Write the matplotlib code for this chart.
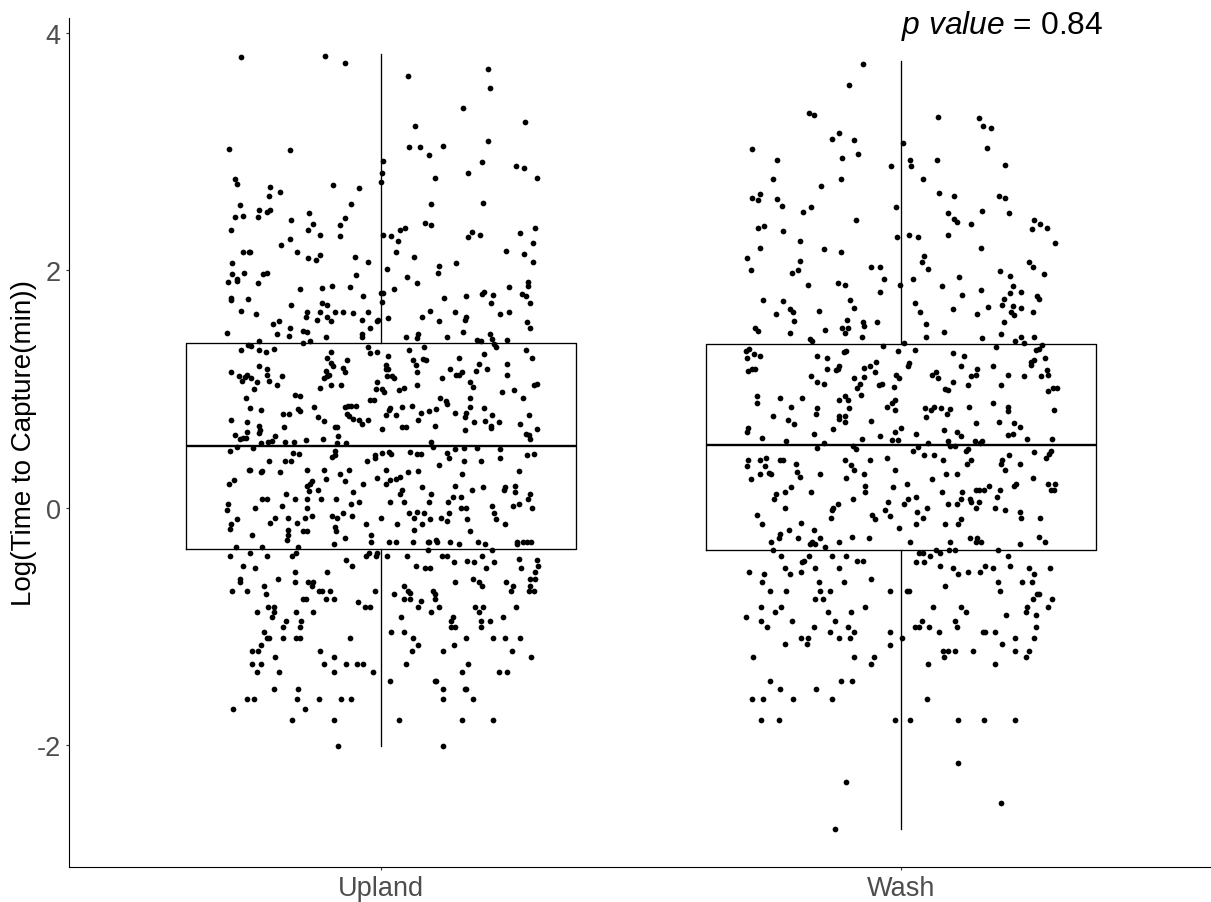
#Jittered time to capture by habitat with boxplots
import matplotlib
matplotlib.use("Agg")
import matplotlib.pyplot as plt

plt.rcParams['font.family'] = ['Liberation Sans', 'DejaVu Sans']
plt.rcParams['mathtext.fontset'] = 'custom'
plt.rcParams['mathtext.it'] = 'Liberation Sans:italic'
plt.rcParams['mathtext.rm'] = 'Liberation Sans'

categories = ["Upland", "Wash"]
y_ticks = [-2, 0, 2, 4]
y_tick_labels = ["-2", "0", "2", "4"]
p_label = r"$\mathit{p\ value}$ = 0.84"

# box summaries: whislo, q1, med, q3, whishi
upland_box = [-2.01, -0.35, 0.515, 1.385, 3.82]
wash_box = [-2.71, -0.36, 0.525, 1.38, 3.76]

# (horizontal jitter from the category centre, log time)
upland_top = [(-0.270,3.80),(-0.108,3.81),(-0.070,3.75),(0.052,3.64),(0.206,3.70),(0.210,3.54),(0.158,3.37),(0.277,3.25),
(0.066,3.22),(0.206,3.09),(-0.292,3.02),(-0.175,3.01),(0.054,3.04),(0.074,3.04),(0.119,3.05),(0.093,2.97),(0.004,2.92),
(0.002,2.82),(0.000,2.74),(0.194,2.91),(0.167,2.82),(0.260,2.88),(0.275,2.86),(0.299,2.78),(0.103,2.78),(-0.280,2.77),
(-0.276,2.73),(-0.213,2.70),(-0.215,2.63),(-0.195,2.66),(-0.092,2.72),(-0.043,2.69),(-0.272,2.55),(-0.235,2.51),(-0.213,2.51),
(-0.219,2.49),(-0.280,2.45),(-0.266,2.46),(-0.237,2.45),(-0.057,2.56),(-0.138,2.48),(0.097,2.56),(0.196,2.57),(-0.174,2.42),
(-0.070,2.44),(-0.130,2.39),(-0.078,2.38),(0.085,2.40),(0.097,2.38),(0.046,2.36),(0.036,2.34),(-0.288,2.34),(-0.140,2.34),
(-0.118,2.30),(-0.078,2.29),(0.004,2.30),(0.020,2.29),(0.032,2.25),(0.174,2.32),(0.167,2.28),(0.190,2.30),(0.267,2.31),
(0.297,2.36),(0.293,2.23),(-0.175,2.26),(-0.193,2.21),(-0.266,2.15),(-0.254,2.15),(-0.251,2.15),(-0.161,2.15),(-0.118,2.13),
(-0.140,2.10),(-0.126,2.09),(-0.051,2.11),(-0.025,2.07),(0.028,2.15),(0.064,2.11),(0.240,2.16),(0.275,2.14),(0.293,2.07),
(0.145,2.06),(0.111,2.04),(0.109,1.98),(0.011,2.01),(-0.286,2.06),(-0.286,1.97),(-0.264,1.98),(-0.276,1.93),(-0.227,1.97),
(-0.219,1.98),(-0.049,1.96),(0.050,1.94)]

upland_mid = [(-0.294,1.90),(-0.276,1.91),(-0.237,1.89),(-0.156,1.84),(-0.114,1.85),(-0.094,1.87),(-0.059,1.86),(0.024,1.84),
(0.070,1.89),(0.282,1.90),(0.282,1.87),(0.247,1.86),(-0.001,1.81),(0.004,1.81),(0.002,1.73),(-0.035,1.78),(-0.288,1.77),
(-0.288,1.75),(-0.256,1.76),(-0.173,1.71),(-0.114,1.72),(-0.103,1.71),(0.121,1.77),(0.164,1.78),(0.194,1.80),(0.198,1.82),
(0.216,1.79),(0.271,1.80),(0.279,1.78),(0.212,1.72),(0.287,1.72),(-0.270,1.66),(-0.240,1.63),(-0.142,1.65),(-0.144,1.61),
(-0.118,1.65),(-0.088,1.65),(-0.074,1.65),(-0.053,1.64),(-0.025,1.65),(-0.104,1.61),(-0.124,1.58),(-0.096,1.57),(-0.037,1.58),
(0.014,1.60),(-0.005,1.58),(-0.007,1.57),(0.079,1.61),(0.095,1.66),(0.111,1.57),(0.143,1.65),(0.163,1.61),(0.161,1.58),
(0.229,1.63),(0.247,1.65),(0.281,1.56),(0.287,1.51),(-0.207,1.55),(-0.197,1.57),(-0.175,1.51),(-0.151,1.49),(-0.142,1.48),
(-0.296,1.47),(-0.201,1.46),(-0.177,1.45),(-0.106,1.44),(-0.037,1.46),(-0.037,1.44),(-0.021,1.51),(0.048,1.44),(0.072,1.46),
(0.070,1.43),(0.127,1.44),(0.157,1.48),(0.210,1.46),(0.214,1.42),(0.218,1.38),(0.222,1.35),(-0.234,1.40),(-0.151,1.39),
(-0.136,1.40),(0.184,1.41),(0.192,1.40),(0.243,1.41),(-0.256,1.37),(-0.250,1.36),(-0.270,1.33),(-0.234,1.33),(-0.222,1.31),
(-0.206,1.34),(-0.025,1.35),(-0.021,1.30),(-0.007,1.31),(0.054,1.33),(0.083,1.35),(-0.096,1.31),(0.014,1.28),(0.198,1.29),
(0.279,1.33),(0.291,1.26),(0.149,1.26),(-0.104,1.26),(-0.096,1.22),(-0.092,1.19),(-0.065,1.24),(0.062,1.24),(0.068,1.20),
(0.081,1.25),(0.086,1.24),(0.188,1.21),(0.243,1.21),(-0.234,1.19),(-0.220,1.17),(-0.220,1.12),(-0.074,1.18),(-0.069,1.14),
(0.009,1.20),(0.009,1.17),(0.014,1.17),(-0.288,1.14),(-0.106,1.15),(-0.101,1.12),(-0.104,1.11),(-0.109,1.09),(0.070,1.14),
(0.132,1.17),(0.182,1.15),(0.204,1.17),(0.156,1.14),(0.150,1.12),(0.144,1.12),(0.242,1.12),(-0.274,1.11),(-0.258,1.12),
(-0.262,1.10),(-0.268,1.07),(-0.250,1.09),(-0.239,1.06),(-0.215,1.07),(-0.191,1.11),(0.011,1.11),(0.022,1.11),(0.024,1.09),
(0.117,1.09),(0.172,1.06),(0.176,1.02),(-0.007,1.06),(-0.201,1.03),(-0.244,1.00),(-0.118,1.01),(-0.096,1.03),(-0.077,1.03),
(0.070,1.03),(-0.009,1.00),(0.002,1.00),(0.006,0.97),(0.034,0.99),(0.044,1.01),(0.232,0.97),(0.255,0.99),(0.295,1.03),
(0.300,1.04),(-0.165,0.95),(-0.156,0.94),(-0.260,0.92),(-0.021,0.91),(-0.013,0.91),(0.113,0.92),(0.125,0.90),(0.127,0.87),
(0.172,0.92),(0.273,0.92),(-0.252,0.84),(-0.231,0.82),(-0.160,0.83),(-0.156,0.81),(-0.128,0.85),(-0.070,0.85),(-0.063,0.86),
(-0.057,0.86),(-0.049,0.86),(0.018,0.84),(0.016,0.82),(0.040,0.85),(0.060,0.86),(0.076,0.80),(0.093,0.81),(0.105,0.83),
(0.143,0.80),(0.163,0.80),(0.161,0.76),(0.172,0.85),(0.198,0.84),(-0.189,0.79),(-0.177,0.79),(-0.065,0.79),(-0.061,0.77),
(-0.053,0.75),(0.009,0.78),(0.028,0.78),(0.214,0.78),(0.285,0.78),(-0.288,0.74),(-0.122,0.76),(-0.110,0.73),(-0.043,0.74),
(-0.025,0.74),(0.072,0.74),(0.178,0.72),(0.200,0.73),(0.226,0.72),(-0.258,0.72),(-0.234,0.69),(-0.232,0.65),(-0.234,0.63),
(-0.186,0.68),(-0.088,0.68),(-0.085,0.68),(-0.037,0.70),(0.040,0.68),(0.048,0.68),(0.103,0.69),(0.211,0.69),(0.211,0.67),
(0.267,0.70),(0.002,0.66),(0.299,0.66),(-0.258,0.64),(0.161,0.65),(-0.280,0.61),(-0.272,0.58),(-0.266,0.59),(-0.260,0.59),
(-0.203,0.60),(-0.209,0.56),(-0.217,0.55),(-0.112,0.58),(-0.083,0.60),(0.279,0.62),(0.285,0.61),(0.287,0.58),(-0.144,0.57),
(-0.231,0.54),(-0.185,0.55),(-0.167,0.55),(-0.084,0.54),(-0.067,0.54),(0.097,0.55),(0.099,0.51),(-0.276,0.51),(-0.246,0.50),
(-0.290,0.48),(-0.088,0.48),(0.143,0.49),(0.159,0.50),(0.184,0.50),(0.229,0.49),(0.056,0.47),(0.016,0.47),(0.020,0.45),
(0.002,0.46),(-0.011,0.44),(-0.011,0.42),(0.070,0.45),(0.076,0.45),(0.126,0.46),(0.130,0.42),(-0.169,0.46),(-0.158,0.45),
(-0.088,0.44),(-0.094,0.43),(0.281,0.44),(0.295,0.45),(0.229,0.42),(-0.215,0.39),(-0.185,0.39),(-0.173,0.39),(-0.027,0.39),
(0.159,0.39),(0.192,0.39),(0.111,0.36),(-0.254,0.32),(-0.251,0.32),(-0.228,0.31),(-0.230,0.30),(-0.195,0.30),(-0.142,0.32),
(-0.110,0.32),(-0.061,0.32),(0.009,0.32),(0.072,0.31),(0.265,0.31),(-0.078,0.28),(0.052,0.30),(0.156,0.28),(-0.106,0.24),
(-0.069,0.22),(-0.007,0.25),(0.037,0.26),(0.028,0.24),(0.018,0.23),(-0.282,0.23),(-0.292,0.20),(-0.035,0.20),(0.009,0.20),
(-0.132,0.22),(-0.136,0.20),(-0.142,0.18),(-0.138,0.14),(-0.122,0.15),(0.079,0.17),(0.143,0.18),(0.174,0.15),(0.196,0.17),
(0.238,0.17),(0.236,0.15),(0.257,0.18),(0.257,0.13),(0.040,0.15),(0.037,0.11),(-0.053,0.13),(-0.183,0.11),(0.097,0.11),
(0.287,0.11),(0.283,0.07),(0.139,0.09),(0.153,0.09),(-0.228,0.07),(-0.219,0.07),(-0.165,0.07),(-0.142,0.07),(-0.116,0.07),
(-0.087,0.07),(-0.043,0.05),(-0.057,0.03),(0.018,0.05),(0.044,0.05),(0.092,0.05),(0.129,0.05),(-0.294,0.03),(-0.297,-0.02),
(-0.191,0.01),(-0.242,0.00),(-0.142,0.00),(0.253,0.01),(0.265,0.03),(0.214,0.01),(0.153,0.00),(0.163,0.00),(0.291,0.00),
(0.070,-0.04),(0.082,-0.05),(0.054,-0.05),(0.218,-0.05),(0.131,-0.05),(-0.074,-0.05),(-0.055,-0.07),(-0.094,-0.07),(-0.084,-0.09),
(-0.132,-0.07),(-0.147,-0.09),(-0.179,-0.09),(-0.204,-0.09),(-0.276,-0.10),(0.000,-0.09),(0.064,-0.09),(0.095,-0.10),(0.115,-0.09),
(0.165,-0.10),(0.222,-0.10)]

upland_low = [(-0.213,-0.13),(-0.161,-0.13),(-0.029,-0.14),(0.030,-0.14),(0.079,-0.14),(0.127,-0.11),(0.238,-0.14),(-0.288,-0.14),
(-0.290,-0.18),(-0.248,-0.23),(-0.179,-0.19),(-0.179,-0.23),(-0.181,-0.27),(-0.151,-0.20),(-0.142,-0.20),(-0.088,-0.16),(-0.086,-0.20),
(-0.070,-0.26),(-0.019,-0.23),(0.064,-0.19),(0.172,-0.20),(-0.090,-0.31),(-0.019,-0.29),(0.016,-0.29),(0.028,-0.29),(0.062,-0.29),
(0.090,-0.29),(0.092,-0.29),(0.105,-0.27),(0.107,-0.29),(0.133,-0.29),(0.149,-0.31),(0.186,-0.29),(0.200,-0.31),(0.261,-0.29),
(0.261,-0.31),(0.273,-0.29),(0.281,-0.29),(0.289,-0.29),(-0.278,-0.33),(-0.228,-0.33),(-0.160,-0.33),(0.090,-0.36),(0.214,-0.36),
(-0.290,-0.41),(-0.252,-0.38),(-0.219,-0.41),(-0.171,-0.41),(-0.163,-0.38),(-0.024,-0.38),(-0.028,-0.41),(-0.007,-0.38),(-0.010,-0.41),
(0.011,-0.41),(0.050,-0.41),(0.117,-0.41),(0.127,-0.41),(0.194,-0.41),(-0.067,-0.44),(0.141,-0.46),(0.165,-0.45),(0.178,-0.46),
(0.218,-0.46),(0.265,-0.43),(0.299,-0.44),(0.301,-0.49),(-0.266,-0.49),(-0.055,-0.49),(0.068,-0.49),(-0.242,-0.51),(0.085,-0.51),
(0.095,-0.51),(0.202,-0.51),(0.269,-0.51),(0.297,-0.54),(-0.165,-0.54),(-0.103,-0.54),(0.287,-0.60),(0.297,-0.60),(-0.272,-0.60),
(-0.272,-0.63),(-0.199,-0.60),(-0.165,-0.63),(-0.140,-0.63),(-0.130,-0.63),(-0.132,-0.66),(0.143,-0.63),(0.176,-0.60),(0.188,-0.63),
(0.194,-0.66),(0.240,-0.63),(0.253,-0.66),(0.249,-0.70),(-0.226,-0.66),(0.044,-0.66),(0.287,-0.66),(0.285,-0.70),(0.295,-0.70),
(-0.286,-0.70),(-0.258,-0.70),(-0.120,-0.70),(-0.114,-0.70),(-0.098,-0.70),(-0.011,-0.70),(0.052,-0.70),(0.056,-0.72),(0.056,-0.77),
(0.099,-0.70),(0.103,-0.73),(0.103,-0.77),(-0.222,-0.73),(0.024,-0.73),(0.044,-0.77),(-0.151,-0.77),(-0.145,-0.77),(-0.106,-0.77),
(-0.090,-0.77),(0.076,-0.79),(0.072,-0.84),(-0.045,-0.80),(-0.031,-0.84),(-0.021,-0.84),(-0.217,-0.84),(-0.205,-0.84),(-0.205,-0.88),
(0.111,-0.84),(0.180,-0.84),(0.196,-0.84),(0.259,-0.84),(-0.238,-0.88),(-0.163,-0.88),(-0.130,-0.88),(0.097,-0.88),(0.188,-0.88),
(-0.209,-0.92),(0.038,-0.92),(0.139,-0.92),(0.135,-0.96),(0.234,-0.92),(-0.183,-0.96),(-0.154,-0.96),(0.192,-0.96),(0.210,-0.96),
(-0.189,-1.01),(-0.156,-1.01),(0.135,-1.01),(0.143,-1.01),(0.192,-1.01),(-0.226,-1.05),(0.020,-1.05),(0.044,-1.05),(-0.219,-1.10),
(-0.215,-1.10),(-0.189,-1.10),(-0.163,-1.10),(-0.156,-1.10),(-0.059,-1.10),(0.062,-1.10),(0.163,-1.10),(0.216,-1.10),(0.238,-1.10),
(0.267,-1.10),(-0.231,-1.16),(0.072,-1.16),(0.141,-1.16),(-0.248,-1.21),(-0.237,-1.21),(-0.118,-1.21),(0.060,-1.21),(0.119,-1.21),
(0.251,-1.21),(-0.203,-1.26),(-0.090,-1.26),(0.289,-1.26),(-0.248,-1.32),(-0.231,-1.32),(-0.110,-1.32),(-0.067,-1.32),(-0.047,-1.32),
(-0.035,-1.32),(0.048,-1.32),(0.167,-1.32),(-0.238,-1.39),(-0.197,-1.39),(-0.090,-1.39),(-0.015,-1.39),(0.156,-1.39),(0.226,-1.39),
(0.243,-1.39),(0.018,-1.46),(0.103,-1.46),(0.106,-1.46),(-0.205,-1.53),(-0.160,-1.53),(0.119,-1.53),(0.161,-1.53),(0.163,-1.53),
(-0.258,-1.61),(-0.244,-1.61),(-0.161,-1.61),(-0.120,-1.61),(-0.077,-1.61),(-0.057,-1.61),(0.119,-1.61),(0.176,-1.61),(-0.284,-1.70),
(-0.146,-1.70),(-0.171,-1.79),(-0.090,-1.79),(0.034,-1.79),(0.156,-1.79),(0.216,-1.79),(-0.083,-2.01),(0.119,-2.01)]

wash_top = [(-0.073,3.74),(-0.100,3.56),(-0.178,3.33),(-0.167,3.31),(0.071,3.29),(0.150,3.28),(0.158,3.22),(0.172,3.20),(-0.119,3.16),
(-0.132,3.11),(-0.091,3.10),(0.004,3.07),(-0.287,3.02),(0.166,3.03),(-0.239,2.93),(-0.114,2.95),(-0.083,2.98),(0.018,2.93),(0.020,2.88),
(0.069,2.93),(-0.020,2.88),(0.199,2.89),(-0.247,2.77),(-0.116,2.77),(-0.154,2.71),(0.042,2.77),(0.073,2.65),(0.101,2.63),(0.188,2.63),
(0.199,2.61),(-0.287,2.61),(-0.276,2.59),(-0.271,2.64),(-0.239,2.60),(-0.229,2.54),(-0.174,2.53),(-0.189,2.49),(-0.010,2.53),(0.091,2.48),
(0.101,2.43),(0.108,2.41),(0.156,2.50),(0.207,2.48),(-0.087,2.42),(0.256,2.42),(0.268,2.39),(0.281,2.36),(0.251,2.35),(0.134,2.39),
(-0.276,2.36),(-0.263,2.37),(-0.227,2.33),(-0.195,2.25),(-0.008,2.28),(0.016,2.30),(0.032,2.28),(0.091,2.30),(0.296,2.23),(-0.272,2.19),
(-0.148,2.18),(-0.116,2.15),(0.154,2.19),(0.045,2.12),(0.040,2.07),(-0.296,2.10),(-0.288,2.00),(-0.195,2.08),(-0.210,1.98),(-0.199,2.00),
(-0.057,2.03),(-0.041,2.03),(0.051,2.01),(0.245,2.07),(0.254,2.03),(0.190,1.99),(0.210,1.95),(0.274,1.97),(-0.033,1.93),(0.022,1.93),
(0.111,1.94)]

wash_mid = [(-0.179,1.88),(-0.122,1.89),(-0.108,1.88),(-0.040,1.82),(-0.002,1.88),(0.079,1.87),(0.154,1.83),(0.215,1.87),(0.210,1.81),
(0.231,1.82),(0.117,1.79),(0.262,1.78),(0.265,1.76),(0.197,1.76),(0.195,1.71),(0.215,1.70),(0.231,1.68),(0.211,1.65),(0.217,1.62),
(0.168,1.69),(0.146,1.63),(0.253,1.65),(-0.265,1.75),(-0.227,1.74),(-0.099,1.75),(0.026,1.72),(0.100,1.67),(-0.241,1.63),(-0.213,1.67),
(-0.207,1.65),(-0.158,1.66),(-0.091,1.68),(0.036,1.65),(-0.205,1.57),(-0.104,1.58),(-0.046,1.56),(-0.073,1.56),(-0.071,1.53),(0.047,1.55),
(0.197,1.56),(-0.280,1.51),(-0.275,1.49),(-0.213,1.47),(-0.146,1.50),(-0.114,1.51),(-0.103,1.51),(-0.108,1.47),(-0.075,1.44),(0.082,1.48),
(0.047,1.44),(0.193,1.46),(0.156,1.43),(0.231,1.44),(0.219,1.40),(0.237,1.39),(0.256,1.44),(-0.175,1.42),(-0.172,1.40),(0.005,1.39),
(-0.035,1.36),(0.182,1.35),(0.270,1.37),(0.265,1.34),(0.259,1.33),(-0.292,1.34),(-0.299,1.32),(-0.282,1.29),(-0.271,1.28),(-0.296,1.26),
(-0.105,1.32),(-0.110,1.31),(-0.006,1.32),(0.026,1.33),(-0.162,1.28),(-0.142,1.26),(0.099,1.30),(0.121,1.28),(0.277,1.26),(-0.049,1.23),
(-0.059,1.19),(-0.071,1.18),(0.016,1.22),(0.014,1.19),(0.255,1.24),(0.249,1.23),(0.249,1.20),(0.115,1.19),(0.176,1.19),(-0.119,1.19),
(-0.122,1.17),(-0.126,1.16),(-0.142,1.17),(-0.280,1.17),(-0.287,1.17),(-0.294,1.15),(-0.051,1.14),(0.146,1.17),(0.144,1.12),(0.135,1.11),
(0.281,1.16),(0.283,1.12),(0.067,1.14),(0.060,1.12),(-0.010,1.12),(-0.004,1.09),(0.071,1.09),(0.206,1.12),(0.237,1.11),(0.269,1.11),
(-0.174,1.11),(-0.071,1.10),(-0.091,1.09),(-0.162,1.06),(-0.148,1.04),(0.100,1.06),(-0.037,1.04),(-0.043,1.03),(-0.079,1.04),(-0.084,1.01),
(-0.014,1.02),(0.128,1.03),(0.192,1.03),(0.085,1.00),(0.091,0.99),(0.292,1.01),(0.299,1.01),(0.283,0.98),(-0.077,0.95),(-0.278,0.94),
(-0.233,0.92),(-0.190,0.92),(-0.108,0.94),(-0.103,0.91),(-0.119,0.91),(-0.278,0.88),(-0.012,0.91),(-0.017,0.88),(-0.028,0.85),(0.176,0.88),
(-0.211,0.85),(-0.162,0.84),(-0.100,0.84),(-0.012,0.82),(0.063,0.85),(0.057,0.82),(0.046,0.84),(0.077,0.84),(0.095,0.83),(0.089,0.79),
(0.130,0.85),(0.206,0.85),(0.206,0.81),(0.294,0.82),(-0.164,0.79),(-0.247,0.77),(-0.119,0.77),(-0.119,0.75),(-0.107,0.77),(0.047,0.76),
(-0.217,0.74),(-0.057,0.73),(-0.108,0.72),(-0.205,0.70),(0.188,0.72),(0.217,0.71),(0.229,0.68),(0.144,0.71),(-0.294,0.67),(-0.296,0.64),
(-0.130,0.66),(0.000,0.67),(-0.012,0.64),(0.083,0.65),(0.107,0.64),(0.115,0.60),(-0.168,0.62),(0.028,0.62),(0.206,0.61),(0.215,0.62),
(-0.267,0.59),(-0.075,0.58),(-0.040,0.60),(-0.017,0.57),(-0.006,0.57),(0.243,0.58),(0.290,0.58),(-0.221,0.56),(0.091,0.56),(0.142,0.56),
(0.156,0.56),(0.152,0.54),(-0.148,0.54),(0.051,0.54),(0.095,0.52),(0.103,0.52),(-0.092,0.52),(-0.087,0.49),(-0.162,0.50),(0.033,0.51),
(0.022,0.48),(0.129,0.49),(0.124,0.48),(0.255,0.47),(0.289,0.48),(0.284,0.45),(0.279,0.42),(0.208,0.44),(0.045,0.44),(0.063,0.44),
(-0.028,0.42),(-0.259,0.42),(-0.294,0.40),(-0.272,0.40),(-0.233,0.40),(-0.227,0.40),(-0.108,0.40),(-0.059,0.40),(0.081,0.40),(0.135,0.40),
(0.127,0.37),(0.195,0.40),(0.193,0.37),(0.229,0.37),(-0.203,0.37),(-0.296,0.35),(-0.261,0.35),(-0.097,0.36),(0.200,0.32),(-0.091,0.32),
(-0.012,0.32),(-0.254,0.29),(-0.251,0.28),(-0.272,0.28),(-0.201,0.30),(-0.195,0.26),(-0.156,0.28),(-0.071,0.28),(0.087,0.28),(0.107,0.28),
(-0.288,0.24),(-0.106,0.25),(0.060,0.24),(0.253,0.25),(0.011,0.20),(0.283,0.20),(0.296,0.20),(0.221,0.20),(0.217,0.18),(-0.211,0.17),
(-0.223,0.13),(-0.069,0.18),(-0.069,0.13),(-0.015,0.17),(-0.174,0.13),(0.079,0.13),(0.144,0.15),(0.150,0.15),(0.160,0.15),(0.170,0.18),
(0.190,0.15),(0.288,0.15),(0.294,0.15),(0.118,0.13),(-0.241,0.11),(-0.245,0.07),(0.184,0.09),(0.014,0.07),(0.028,0.09),(0.006,0.03),
(-0.093,0.07),(0.115,0.07),(0.107,0.03),(0.133,0.07),(0.135,0.05),(0.150,0.05),(-0.026,0.05),(0.091,0.03),(-0.121,0.03),(-0.130,0.00),
(-0.132,-0.02),(-0.223,0.00),(-0.030,-0.02),(0.049,0.00),(0.031,-0.04),(0.144,0.00),(0.180,0.00),(0.200,-0.02),(0.228,-0.04),(-0.278,-0.06),
(-0.055,-0.06),(-0.021,-0.07),(-0.134,-0.09),(-0.051,-0.10),(0.042,-0.09),(0.115,-0.10),(0.231,-0.09),(0.267,-0.09)]

wash_low = [(-0.267,-0.14),(-0.193,-0.13),(-0.004,-0.17),(0.029,-0.14),(0.085,-0.14),(0.109,-0.14),(-0.215,-0.19),(-0.168,-0.19),(-0.233,-0.22),
(-0.235,-0.26),(-0.251,-0.29),(-0.199,-0.26),(-0.156,-0.26),(-0.095,-0.25),(-0.061,-0.26),(-0.172,-0.29),(-0.175,-0.31),(-0.166,-0.31),
(-0.146,-0.33),(-0.120,-0.29),(0.018,-0.29),(0.095,-0.29),(0.133,-0.26),(0.146,-0.26),(0.144,-0.29),(0.153,-0.29),(0.228,-0.31),(0.265,-0.25),
(0.277,-0.29),(-0.247,-0.36),(0.035,-0.38),(0.043,-0.38),(0.067,-0.36),(0.075,-0.38),(0.093,-0.36),(0.103,-0.36),(0.186,-0.36),(-0.231,-0.41),
(-0.178,-0.41),(-0.132,-0.41),(-0.106,-0.41),(0.055,-0.41),(0.206,-0.41),(-0.186,-0.45),(-0.190,-0.46),(-0.085,-0.45),(-0.073,-0.45),(0.028,-0.46),
(0.045,-0.46),(0.075,-0.49),(0.162,-0.49),(0.210,-0.49),(-0.223,-0.51),(-0.166,-0.51),(-0.120,-0.51),(0.099,-0.51),(0.176,-0.51),(0.245,-0.51),
(0.286,-0.51),(-0.292,-0.54),(-0.192,-0.54),(0.128,-0.54),(0.152,-0.54),(-0.263,-0.56),(-0.213,-0.56),(0.109,-0.56),(0.256,-0.56),(-0.057,-0.60),
(-0.267,-0.63),(-0.158,-0.63),(-0.110,-0.63),(0.186,-0.63),(0.233,-0.63),(0.251,-0.63),(0.085,-0.66),(-0.253,-0.70),(-0.221,-0.70),(-0.156,-0.70),
(-0.136,-0.70),(-0.022,-0.70),(0.011,-0.70),(0.016,-0.70),(0.190,-0.70),(0.261,-0.73),(0.265,-0.73),(-0.166,-0.77),(-0.150,-0.77),(0.253,-0.77),
(0.290,-0.77),(-0.270,-0.84),(-0.231,-0.84),(-0.069,-0.84),(0.061,-0.84),(0.115,-0.84),(0.243,-0.84),(0.283,-0.84),(-0.243,-0.88),(-0.140,-0.88),
(-0.097,-0.88),(0.124,-0.88),(0.241,-0.88),(-0.298,-0.92),(0.201,-0.91),(0.259,-0.91),(-0.270,-0.96),(-0.209,-0.96),(-0.128,-0.96),(0.040,-0.96),
(0.104,-0.96),(-0.258,-1.01),(-0.168,-1.01),(-0.103,-1.01),(0.027,-1.01),(0.035,-1.01),(0.053,-1.01),(0.107,-1.01),(0.259,-1.01),(-0.136,-1.05),
(-0.091,-1.05),(-0.022,-1.05),(0.073,-1.05),(0.158,-1.05),(0.161,-1.05),(0.180,-1.05),(-0.193,-1.10),(-0.179,-1.10),(-0.120,-1.10),(-0.099,-1.10),
(0.002,-1.10),(0.219,-1.10),(0.255,-1.10),(-0.223,-1.15),(-0.181,-1.15),(-0.022,-1.16),(0.195,-1.15),(0.081,-1.21),(0.091,-1.21),(0.104,-1.21),
(0.138,-1.21),(0.219,-1.21),(0.245,-1.21),(-0.285,-1.26),(-0.091,-1.26),(-0.053,-1.26),(0.083,-1.26),(0.241,-1.26),(-0.057,-1.32),(0.051,-1.32),
(0.180,-1.32),(-0.253,-1.46),(-0.116,-1.46),(-0.095,-1.46),(-0.233,-1.53),(-0.164,-1.53),(-0.286,-1.61),(-0.265,-1.61),(-0.207,-1.61),(-0.132,-1.61),
(0.049,-1.61),(-0.270,-1.79),(-0.235,-1.79),(-0.012,-1.79),(0.018,-1.79),(0.109,-1.79),(0.160,-1.79),(0.219,-1.79),(0.109,-2.15),(-0.106,-2.31),
(0.193,-2.49),(-0.128,-2.71)]


def box_stats(label, vals):
    """Summary dict for bxp from [whislo, q1, med, q3, whishi]."""
    return dict(label=label, whislo=vals[0], q1=vals[1], med=vals[2], q3=vals[3], whishi=vals[4], fliers=[])


fig = plt.figure(figsize=(12.11, 9.03), dpi=100)
ax = fig.add_axes([69 / 1211, 35.4 / 903, 1141 / 1211, 849 / 903])

ax.bxp([box_stats(categories[0], upland_box), box_stats(categories[1], wash_box)],
       positions=[1, 2], widths=0.75, showcaps=False, showfliers=False,
       boxprops=dict(color="black", linewidth=0.95),
       whiskerprops=dict(color="black", linewidth=0.95),
       medianprops=dict(color="black", linewidth=1.7, solid_capstyle="butt"))

for pos, groups in ((1, (upland_top, upland_mid, upland_low)), (2, (wash_top, wash_mid, wash_low))):
    pts = [p for g in groups for p in g]
    ax.scatter([pos + p[0] for p in pts], [p[1] for p in pts], s=17, color="black", linewidths=0, zorder=3)

ax.set_xlim(0.4, 2.594)
ax.set_ylim(-3.027, 4.13)
ax.set_yticks(y_ticks)
ax.set_yticklabels(y_tick_labels)
ax.set_xticks([1, 2])
ax.set_xticklabels(categories)
ax.tick_params(axis="both", labelsize=19.5, labelcolor="#4d4d4d", color="#333333", length=2.5, width=0.8, pad=3.5)
ax.set_ylabel("Log(Time to Capture(min))", fontsize=20, color="black", va="center")
ax.yaxis.set_label_coords((24 - 69) / 1141, 0.5)
for side in ("top", "right"):
    ax.spines[side].set_visible(False)
for side in ("left", "bottom"):
    ax.spines[side].set_linewidth(0.8)

ax.text(2.0, 4.07, p_label, fontsize=22.9, color="black", ha="left", va="center", clip_on=False)

fig.savefig("out.png", dpi=100)
